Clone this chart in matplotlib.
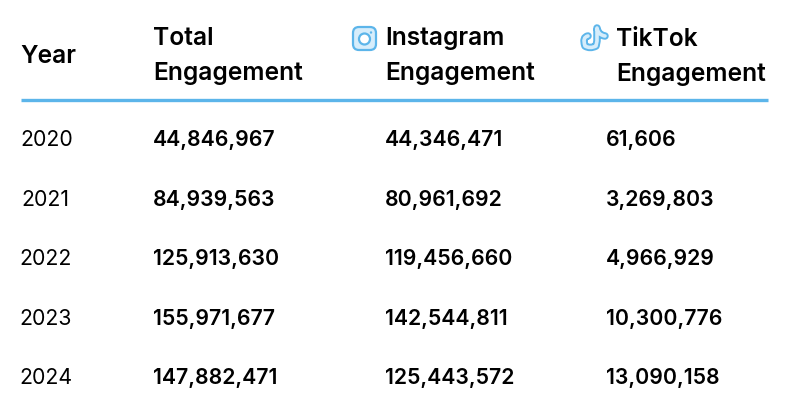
import matplotlib.pyplot as plt
from matplotlib.patches import FancyBboxPatch, Circle, PathPatch
from matplotlib.path import Path

plt.rcParams['font.family'] = ['Inter', 'DejaVu Sans']

years = ['2020', '2021', '2022', '2023', '2024']
total = ['44,846,967', '84,939,563', '125,913,630', '155,971,677', '147,882,471']
instagram = ['44,346,471', '80,961,692', '119,456,660', '142,544,811', '125,443,572']
tiktok = ['61,606', '3,269,803', '4,966,929', '10,300,776', '13,090,158']

row_y = [140, 200, 259, 319, 378]
year_x = [20, 21, 19, 19, 19]
blue = '#5cb5ea'
pale = '#d6edfb'
ink = '#000000'
head = 17.7
body = 15.25

fig = plt.figure(figsize=(7.88, 4.12), dpi=100)
ax = fig.add_axes([0, 0, 1, 1])
ax.set_xlim(0, 788)
ax.set_ylim(412, 0)
ax.axis('off')

# headers
ax.text(20, 56, 'Year', fontsize=head, fontweight='semibold', color=ink, va='center')
ax.text(153, 38, 'Total', fontsize=head, fontweight='semibold', color=ink, va='center')
ax.text(153, 73, 'Engagement', fontsize=head, fontweight='semibold', color=ink, va='center')
ax.text(385, 38, 'Instagram', fontsize=head, fontweight='semibold', color=ink, va='center')
ax.text(385, 73, 'Engagement', fontsize=head, fontweight='semibold', color=ink, va='center')
ax.text(616, 39, 'TikTok', fontsize=head, fontweight='semibold', color=ink, va='center')
ax.text(616, 74, 'Engagement', fontsize=head, fontweight='semibold', color=ink, va='center')

ax.plot([21, 768], [100, 100], color=blue, lw=2.4, solid_capstyle='butt')

# rows
for i in range(len(years)):
    ax.text(year_x[i], row_y[i], years[i], fontsize=body, color=ink, va='center')
    ax.text(153, row_y[i], total[i], fontsize=body, fontweight='semibold', color=ink, va='center')
    ax.text(385, row_y[i], instagram[i], fontsize=body, fontweight='semibold', color=ink, va='center')
    ax.text(606, row_y[i], tiktok[i], fontsize=body, fontweight='semibold', color=ink, va='center')

# instagram icon
ax.add_patch(FancyBboxPatch((353, 27), 23, 23, boxstyle='round,pad=0,rounding_size=6',
                            fc=pale, ec=blue, lw=1.6))
ax.add_patch(Circle((364.5, 39), 5.5, fc='white', ec=blue, lw=1.6))
ax.add_patch(Circle((371, 32.5), 1.2, fc=blue, ec='none'))

# tiktok icon, a thick pale stroke with a blue edge
note = Path([(588, 36), (582, 37), (585, 46), (590, 49), (596, 46), (597, 41), (597, 28),
             (598, 35), (605, 36)],
            [Path.MOVETO, Path.CURVE3, Path.CURVE3, Path.CURVE3, Path.CURVE3, Path.LINETO, Path.LINETO,
             Path.CURVE3, Path.CURVE3])
ax.add_patch(PathPatch(note, fc='none', ec=blue, lw=5.4, capstyle='round', joinstyle='round'))
ax.add_patch(PathPatch(note, fc='none', ec=pale, lw=2.6, capstyle='round', joinstyle='round'))

fig.savefig('out.png', dpi=100)
